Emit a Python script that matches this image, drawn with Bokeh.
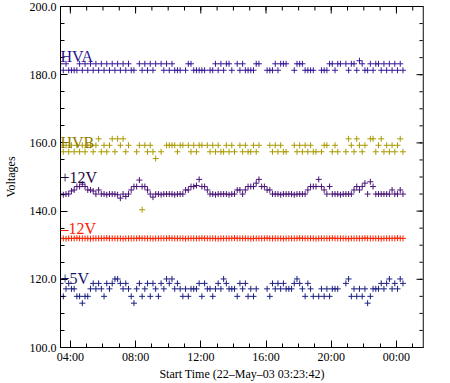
import numpy as np
from bokeh.plotting import figure
from bokeh.models import Range1d, FixedTicker, Label, PrintfTickFormatter, Span
from bokeh.embed import file_html
from bokeh.resources import INLINE

# ---------------- data ----------------
START_HOUR = 3.395          # 22-May-03 03:23:42
END_HOUR = 25.66
SAMPLE_START = 3.40         # first sample (hours of day)
SAMPLE_STEP_MIN = 10        # sampling cadence, minutes

X_TICK_HOURS = [4, 8, 12, 16, 20, 24]
X_TICK_LABELS = ["04:00", "08:00", "12:00", "16:00", "20:00", "00:00"]
X_MINOR_HOURS = [4, 5, 6, 7, 8, 9, 10, 11, 12, 13, 14, 15, 16, 17, 18, 19,
                 20, 21, 22, 23, 24, 25]
Y_TICKS = [100, 120, 140, 160, 180, 200]
Y_MINOR = [100, 105, 110, 115, 120, 125, 130, 135, 140, 145, 150, 155, 160,
           165, 170, 175, 180, 185, 190, 195, 200]

hva = [183.2, 181.3, 183.2, 181.3, 181.3, 181.3, 181.3, 183.2, 181.3, 183.2,
       181.3, 183.2, 181.3, 183.2, 181.3, 183.2, 181.3, 183.2, 181.3, 183.2,
       181.3, 183.2, 181.3, 183.2, 181.3, 183.2, 181.3, 181.3, None, 183.2,
       181.3, 183.2, 181.3, 183.2, 181.3, 183.2, None, 183.2, 181.3, 183.2,
       181.3, 183.2, 181.3, 181.3, 181.3, None, 181.3, 183.2, 183.2, 181.3,
       181.3, 181.3, 181.3, 181.3, None, 181.3, 181.3, 183.2, 181.3, 183.2,
       181.3, 183.2, 183.2, 181.3, None, 183.2, 181.3, 183.2, 181.3, 181.3,
       181.3, 181.3, 183.2, 183.2, None, None, 181.3, 181.3, 181.3, 183.2,
       181.3, 183.2, 183.2, 183.2, None, None, 181.3, 183.2, 183.2, 183.2,
       181.3, 181.3, 181.3, 181.3, None, None, 181.3, 181.3, 181.3, 183.2,
       183.2, 181.3, 183.2, 183.2, None, 183.2, 181.3, 183.2, 183.2, 181.3,
       184.1, 183.2, 181.3, 181.3, 183.2, 181.3, 183.2, 183.2, 181.3, 183.2,
       181.3, 183.2, 181.3, 183.2, 181.3, 183.2, 181.3]

hvb = [159.3, 157.4, 159.3, 157.4, 159.3, 157.4, 159.3, 157.4, 159.3, 157.4,
       159.3, 159.3, 157.4, 159.3, 161.2, 157.4, 159.3, 157.4, 159.3, 161.2,
       157.4, 161.2, 159.3, 161.2, 157.4, 159.3, None, None, 157.4, 159.3,
       140.4, 159.3, 157.4, 159.3, 157.4, 155.4, None, 157.4, None, 159.3,
       159.3, 159.3, 159.3, 157.4, 159.3, 159.3, None, 159.3, 157.4, 159.3,
       157.4, 159.3, 159.3, None, 159.3, 157.4, 159.3, 157.4, 159.3, 157.4,
       157.4, 159.3, 157.4, 159.3, 157.4, None, 159.3, 157.4, 159.3, 157.4,
       157.4, 159.3, 157.4, 159.3, None, None, None, 159.3, 157.4, 159.3,
       157.4, 159.3, 157.4, 157.4, None, None, 159.3, 157.4, 159.3, 157.4,
       159.3, 157.4, 159.3, 157.4, 157.4, None, 157.4, 159.3, 159.3, None,
       157.4, 159.3, 157.4, None, None, 157.4, 161.2, 159.3, 157.4, 161.2,
       159.3, 157.4, 159.3, None, 161.2, 161.2, 157.4, 159.3, 161.2, 157.4,
       159.3, 157.4, 159.3, 157.4, 159.3, 161.2, 157.4]

p12v = [145.0, 144.8, 145.0, 145.0, 145.9, 146.2, 147.2, 147.2, 147.9, 147.2,
        146.2, 146.2, 145.9, 145.0, 146.2, 145.0, 145.0, 144.8, 145.0, 145.0,
        145.0, 144.8, 143.8, 145.0, 144.3, 145.0, 146.2, 147.2, 147.2, 149.1,
        147.2, 147.2, 146.2, 145.0, 144.1, 145.0, 145.0, 144.8, 145.0, 145.0,
        145.0, 145.0, 144.8, 145.0, 145.0, 145.0, 146.2, 146.2, 147.2, 147.2,
        147.5, 149.3, 147.2, 147.2, 146.2, 145.0, 145.0, 144.8, 145.0, 145.0,
        145.0, 145.0, 144.8, 145.0, 145.0, 146.2, 146.2, 145.0, 146.2, 147.2,
        147.2, 147.2, 148.2, 149.3, 147.2, 147.2, 146.2, 146.2, 145.0, 145.0,
        145.0, 144.8, 145.0, 145.0, 145.0, 145.0, 144.8, 145.0, 145.0, 145.0,
        145.0, 146.2, 147.2, 147.2, 147.2, 149.3, 147.2, 146.2, 145.0, 147.2,
        145.0, 145.0, 145.0, 144.8, 145.0, 145.0, 145.0, 145.0, 146.2, 147.2,
        146.2, 147.2, 148.2, 145.0, 148.6, 147.2, 145.0, 145.0, 145.0, 145.0,
        145.0, 145.0, 146.2, 145.0, 145.0, 146.2, 145.0]

m12v = [132.0, 132.0, 131.9, 132.0, 132.0, 132.0, 132.1, 132.0, 132.0, 132.0,
        132.0, 131.9, 132.0, 132.0, 132.0, 132.0, 132.0, 132.1, 132.0, 132.0,
        132.0, 132.0, 132.0, 131.9, 132.0, 132.0, 132.0, 132.0, 132.0, 132.1,
        132.0, 132.0, 132.0, 132.0, 131.9, 132.0, 132.0, 132.0, 132.0, 132.0,
        132.1, 132.0, 132.0, 132.0, 132.0, 132.0, 131.9, 132.0, 132.0, 132.0,
        132.0, 132.0, 132.1, 132.0, 132.0, 132.0, 132.0, 132.0, 131.9, 132.0,
        132.0, 132.0, 132.0, 132.0, 132.1, 132.0, 132.0, 132.0, 132.0, 132.0,
        131.9, 132.0, 132.0, 132.0, 132.0, 132.0, 132.1, 132.0, 132.0, 132.0,
        132.0, 132.0, 131.9, 132.0, 132.0, 132.0, 132.0, 132.0, 132.1, 132.0,
        132.0, 132.0, 132.0, 132.0, 131.9, 132.0, 132.0, 132.0, 132.0, 132.0,
        132.1, 132.0, 132.0, 132.0, 132.0, 132.0, 131.9, 132.0, 132.0, 132.0,
        132.0, 132.0, 132.1, 132.0, 132.0, 132.0, 132.0, 132.0, 131.9, 132.0,
        132.0, 132.0, 132.0, 132.0, 132.1, 132.0, 132.0]

p5v = [118.8, 115.0, 117.2, 118.8, 117.2, 117.2, 115.0, 115.0, 113.0, 115.0,
       115.0, 117.2, 118.8, 117.2, 118.8, 117.2, 115.0, 118.8, 117.2, 118.8,
       120.1, 120.1, 118.8, 117.2, 118.8, 117.2, 115.0, 113.0, 117.2, 118.8,
       115.0, 117.2, 118.8, 115.0, 118.8, 117.2, 115.0, 118.8, 117.2, 120.1,
       118.8, 120.1, 117.2, 118.8, 117.2, 115.0, 117.2, 115.0, 117.2, 117.2,
       117.2, 118.8, 115.0, 118.8, 117.2, 117.2, 115.0, 117.2, 118.8, 117.2,
       120.1, 118.8, 117.2, 117.2, 117.2, 115.0, 118.8, 117.2, 118.8, 115.0,
       117.2, 115.0, 117.2, None, None, None, 117.2, 115.0, 118.8, 117.2,
       118.8, 117.2, 118.8, 117.2, 117.2, 117.2, 118.8, 120.1, 118.8, 117.2,
       115.0, 118.8, 117.2, 115.0, None, 115.0, 117.2, 115.0, 117.2, 115.0,
       117.2, 117.2, 117.2, None, None, 118.8, 120.1, 115.0, 117.2, 115.0,
       117.2, 115.0, 117.2, 113.0, 115.0, 117.2, 117.2, 117.2, 118.8, 117.2,
       118.8, 120.1, 117.2, 118.8, 117.2, 120.1, 118.8]

series_names = ["HVA", "HVB", "+12V", "\u201312V", "+5V"]
series_values = [hva, hvb, p12v, m12v, p5v]
label_levels = [185.3, 160.2, 149.9, 135.0, 120.3]
marker_colors = ["#3a1a9a", "#aa9a00", "#4a1478", "#ff2400", "#1c2080"]
text_colors = ["#2a148c", "#8f7d00", "#24083e", "#ff2000", "#141a6a"]

SERIF = "Liberation Serif"

# ---------------- figure ----------------
p = figure(width=434, height=383,
           x_range=Range1d(START_HOUR, END_HOUR), y_range=Range1d(100, 200),
           output_backend="svg", toolbar_location=None,
           min_border_left=49, min_border_right=11,
           min_border_top=6, min_border_bottom=0)
p.grid.visible = False
p.outline_line_color = "black"
p.outline_line_width = 1
p.background_fill_color = "white"
p.border_fill_color = "white"

n = len(hva)
t = np.array([SAMPLE_START + i * SAMPLE_STEP_MIN / 60.0 for i in range(n)])

for vals, mc in zip(series_values, marker_colors):
    y = np.array(vals, dtype=float)
    p.scatter(t, y, marker="cross", size=6, line_color=mc, line_width=1)

for name, lvl, tc in zip(series_names, label_levels, text_colors):
    p.add_layout(Label(x=START_HOUR, y=lvl, text=name, text_font=SERIF,
                       text_font_size="16px", text_color=tc,
                       text_align="left", text_baseline="alphabetic"))

# inward ticks on the top and right edges (mirrors of bottom/left axes)
p.ray(x=X_MINOR_HOURS, y=[200] * len(X_MINOR_HOURS), length=4,
      length_units="screen", angle=-np.pi / 2, line_color="black")
p.ray(x=X_TICK_HOURS, y=[200] * len(X_TICK_HOURS), length=7,
      length_units="screen", angle=-np.pi / 2, line_color="black")
p.ray(x=[END_HOUR] * len(Y_MINOR), y=Y_MINOR, length=4,
      length_units="screen", angle=np.pi, line_color="black")
p.ray(x=[END_HOUR] * len(Y_TICKS), y=Y_TICKS, length=7,
      length_units="screen", angle=np.pi, line_color="black")
p.add_layout(Span(location=END_HOUR, dimension="height",
                  line_color="#8a8a8a", line_width=2))

def style_axis(ax):
    ax.axis_line_color = "black"
    ax.axis_line_width = 1
    ax.major_tick_in = 7
    ax.major_tick_out = 0
    ax.minor_tick_in = 4
    ax.minor_tick_out = 0
    ax.major_tick_line_color = "black"
    ax.minor_tick_line_color = "black"
    ax.major_label_text_font = SERIF
    ax.major_label_text_font_size = "12px"
    ax.major_label_text_color = "black"
    ax.axis_label_text_font = SERIF
    ax.axis_label_text_font_size = "12px"
    ax.axis_label_text_font_style = "normal"
    ax.axis_label_text_color = "black"

xa = p.xaxis[0]
xa.ticker = FixedTicker(ticks=X_TICK_HOURS, minor_ticks=X_MINOR_HOURS)
xa.major_label_overrides = {h: lab for h, lab in zip(X_TICK_HOURS, X_TICK_LABELS)}
xa.axis_label = "Start Time (22\u2013May\u201303 03:23:42)"
style_axis(xa)
xa.major_label_standoff = 2
xa.axis_label_standoff = 0

ya = p.yaxis[0]
ya.ticker = FixedTicker(ticks=Y_TICKS, minor_ticks=Y_MINOR)
ya.formatter = PrintfTickFormatter(format="%.1f")
ya.axis_label = "Voltages"
style_axis(ya)
ya.major_label_standoff = 4
ya.axis_label_standoff = 9

open("out.html", "w").write(file_html(p, INLINE))
